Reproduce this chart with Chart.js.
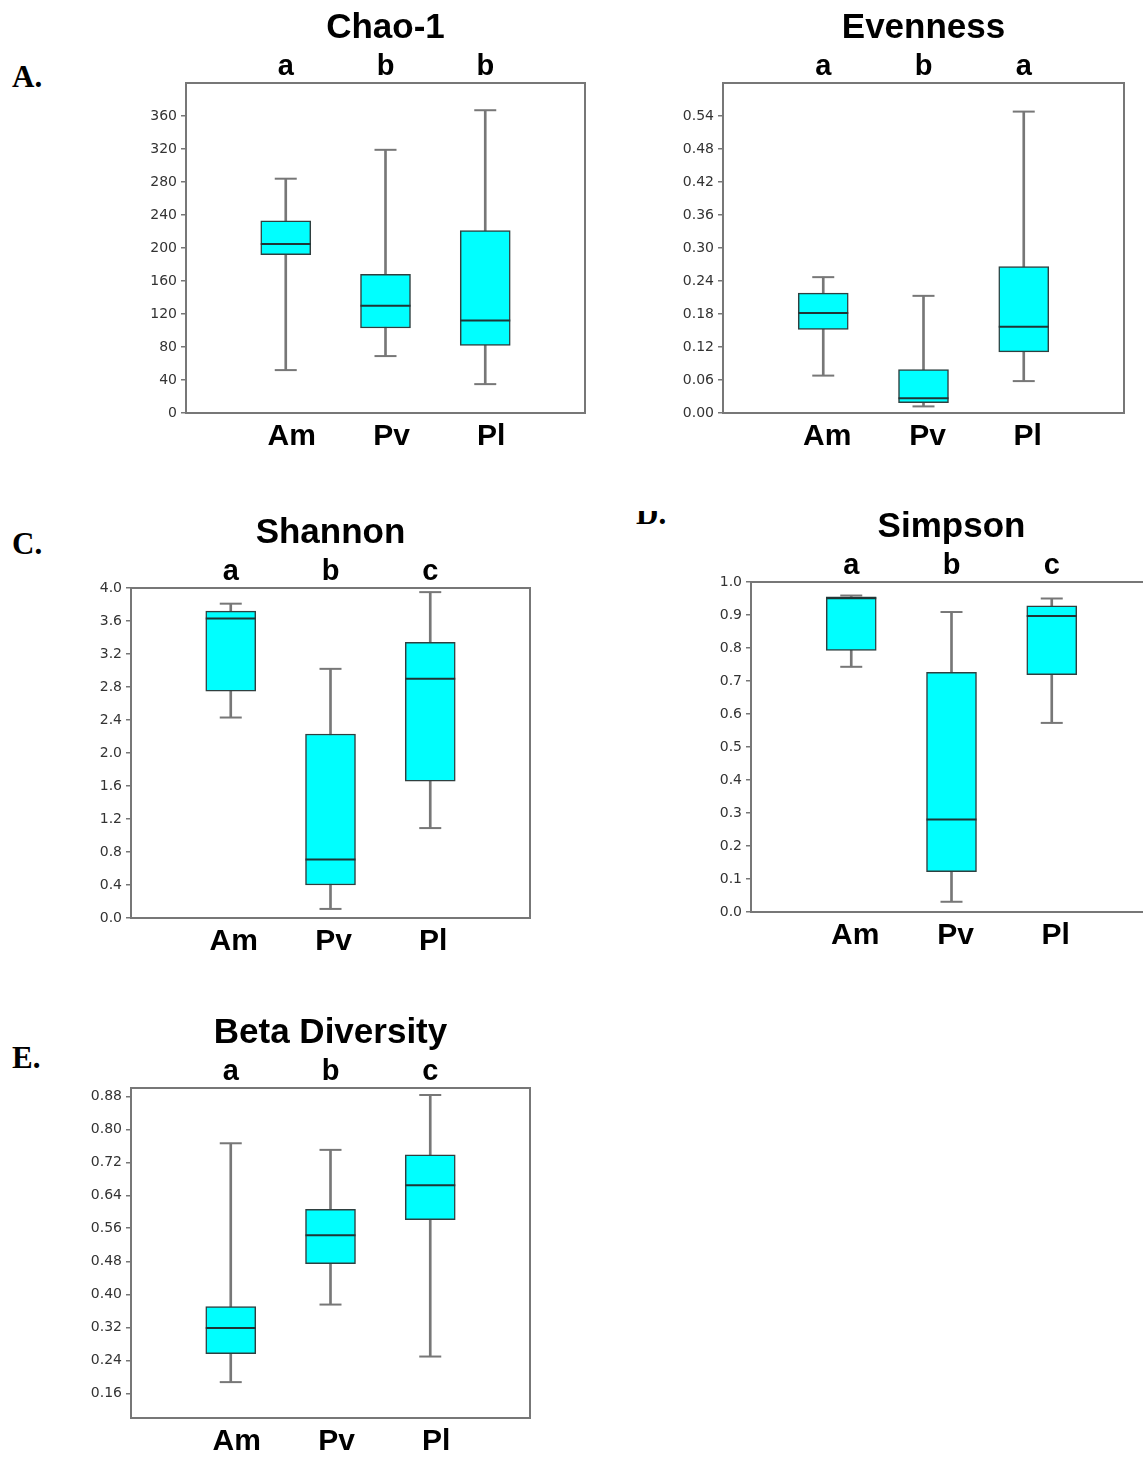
<!DOCTYPE html>
<html>
<head>
<meta charset="utf-8">
<script src="https://cdn.jsdelivr.net/npm/chart.js@4.4.1/dist/chart.umd.min.js"></script>
<style>
  html, body { margin: 0; padding: 0; background: #fff; }
  #page { position: relative; width: 1143px; height: 1457px; overflow: hidden; }
  canvas { position: absolute; }
  .tag { position: absolute; font-family: "Liberation Serif", serif; font-weight: bold; font-size: 31px; color: #000; line-height: 1; }
  #clipD { position: absolute; left: 630px; top: 511px; width: 50px; height: 14px; overflow: hidden; }
</style>
</head>
<body>
<div id="page">
  <div class="tag" style="left:12px; top:61px;">A.</div>
  <div class="tag" style="left:12px; top:528px;">C.</div>
  <div class="tag" style="left:12px; top:1042px;">E.</div>
  <div id="clipD"><div class="tag" style="left:6px; top:-13px;">D.</div></div>
  <canvas id="chao" width="511" height="454"></canvas>
  <canvas id="even" width="513" height="454"></canvas>
  <canvas id="shan" width="511" height="454"></canvas>
  <canvas id="simp" width="513" height="454"></canvas>
  <canvas id="beta" width="511" height="454"></canvas>
</div>
<script>
// grupos
const groups = ['Am', 'Pv', 'Pl'];

// Chao-1
const chaoMin = [52, 69, 35];
const chaoQ1 = [192, 103, 82];
const chaoMed = [205, 130, 112];
const chaoQ3 = [233, 168, 221];
const chaoMax = [284, 319, 367];
const chaoLetters = ['a', 'b', 'b'];
const chaoTicks = ['0', '40', '80', '120', '160', '200', '240', '280', '320', '360'];

// Evenness
const evenMin = [0.068, 0.012, 0.058];
const evenQ1 = [0.152, 0.019, 0.111];
const evenMed = [0.182, 0.027, 0.157];
const evenQ3 = [0.218, 0.079, 0.266];
const evenMax = [0.247, 0.213, 0.548];
const evenLetters = ['a', 'b', 'a'];
const evenTicks = ['0.00', '0.06', '0.12', '0.18', '0.24', '0.30', '0.36', '0.42', '0.48', '0.54'];

// Shannon
const shanMin = [2.43, 0.11, 1.09];
const shanQ1 = [2.75, 0.40, 1.66];
const shanMed = [3.63, 0.71, 2.90];
const shanQ3 = [3.72, 2.23, 3.34];
const shanMax = [3.81, 3.02, 3.95];
const shanLetters = ['a', 'b', 'c'];
const shanTicks = ['0.0', '0.4', '0.8', '1.2', '1.6', '2.0', '2.4', '2.8', '3.2', '3.6', '4.0'];

// Simpson
const simpMin = [0.743, 0.031, 0.573];
const simpQ1 = [0.793, 0.122, 0.719];
const simpMed = [0.951, 0.280, 0.897];
const simpQ3 = [0.955, 0.726, 0.928];
const simpMax = [0.959, 0.909, 0.950];
const simpLetters = ['a', 'b', 'c'];
const simpTicks = ['0.0', '0.1', '0.2', '0.3', '0.4', '0.5', '0.6', '0.7', '0.8', '0.9', '1.0'];

// Beta diversity
const betaMin = [0.187, 0.375, 0.249];
const betaQ1 = [0.256, 0.474, 0.581];
const betaMed = [0.318, 0.543, 0.664];
const betaQ3 = [0.370, 0.606, 0.738];
const betaMax = [0.766, 0.750, 0.883];
const betaLetters = ['a', 'b', 'c'];
const betaTicks = ['0.16', '0.24', '0.32', '0.40', '0.48', '0.56', '0.64', '0.72', '0.80', '0.88'];

const frameColor = '#777777';
const whiskerColor = '#777777';
const boxBorder = '#2f3f3f';
const medianColor = '#1f3535';

// pad the category axis with an empty slot on each side
const pad = arr => [null, ...arr, null];
const padLabels = arr => ['', ...arr, ''];

function boxPlot(id, left, top, labelShift, title, mins, q1s, meds, q3s, maxs, letters, tickLabels, yMin, yMax) {
  const canvas = document.getElementById(id);
  canvas.style.left = left + 'px';
  canvas.style.top = top + 'px';

  const config = {
    type: 'bar',
    data: {
      labels: padLabels(groups),
      datasets: [
        {
          type: 'line', label: 'median', data: pad(meds), showLine: false,
          pointStyle: 'line', pointRadius: 25, borderColor: medianColor, borderWidth: 2, order: 1
        },
        {
          type: 'line', label: 'max', data: pad(maxs), showLine: false,
          pointStyle: 'line', pointRadius: 11, borderColor: whiskerColor, borderWidth: 2, order: 1
        },
        {
          type: 'line', label: 'min', data: pad(mins), showLine: false,
          pointStyle: 'line', pointRadius: 11, borderColor: whiskerColor, borderWidth: 2, order: 1
        },
        {
          label: 'box', data: pad(groups.map((g, i) => [q1s[i], q3s[i]])),
          backgroundColor: '#00ffff', borderColor: boxBorder, borderWidth: 1.5,
          borderSkipped: false, barThickness: 50, order: 2
        },
        {
          label: 'whisker', data: pad(groups.map((g, i) => [mins[i], maxs[i]])),
          backgroundColor: whiskerColor, borderWidth: 0, barThickness: 2, order: 3
        }
      ]
    },
    options: {
      responsive: false,
      animation: false,
      events: [],
      layout: { padding: 0 },
      plugins: {
        legend: { display: false },
        tooltip: { enabled: false },
        title: {
          display: true, text: title, color: '#000', padding: { top: 3, bottom: 0 },
          font: { family: 'Liberation Sans', size: 35, weight: 'bold', lineHeight: 1.2 }
        }
      },
      scales: {
        x: {
          type: 'category', position: 'bottom', stacked: true, offset: false,
          grid: { drawOnChartArea: false, drawTicks: false, color: frameColor },
          border: { color: frameColor, width: 2 },
          ticks: { color: '#000', padding: 6, labelOffset: labelShift, maxRotation: 0, autoSkip: false,
                   font: { family: 'Liberation Sans', size: 30, weight: 'bold' } },
          afterFit: axis => { axis.height = 45; }
        },
        x2: {
          type: 'category', position: 'top', offset: false, labels: padLabels(letters),
          grid: { drawOnChartArea: false, drawTicks: false, color: frameColor },
          border: { color: frameColor, width: 2 },
          ticks: { color: '#000', padding: -1, maxRotation: 0, autoSkip: false,
                   font: { family: 'Liberation Sans', size: 29, weight: 'bold' } },
          afterFit: axis => { axis.height = 34; }
        },
        y: {
          type: 'linear', position: 'left', min: yMin, max: yMax,
          grid: { drawOnChartArea: false, tickLength: 5, color: frameColor, lineWidth: 1.5 },
          border: { color: frameColor, width: 2 },
          ticks: { color: '#333', padding: 4, callback: (v, i) => tickLabels[i],
                   font: { family: 'DejaVu Sans', size: 14 } },
          afterBuildTicks: axis => { axis.ticks = tickLabels.map(t => ({ value: Number(t) })); },
          afterFit: axis => { axis.width = 56; }
        },
        yR: {
          type: 'linear', position: 'right', min: yMin, max: yMax,
          grid: { drawOnChartArea: false, drawTicks: false, color: frameColor },
          border: { color: frameColor, width: 2 },
          ticks: { display: false },
          afterFit: axis => { axis.width = 56; }
        }
      }
    }
  };

  new Chart(canvas.getContext('2d'), config);
}

boxPlot('chao', 130, 4, 6, 'Chao-1', chaoMin, chaoQ1, chaoMed, chaoQ3, chaoMax, chaoLetters, chaoTicks, 0, 400);
boxPlot('even', 667, 4, 4, 'Evenness', evenMin, evenQ1, evenMed, evenQ3, evenMax, evenLetters, evenTicks, 0, 0.6);
boxPlot('shan', 75, 509, 3, 'Shannon', shanMin, shanQ1, shanMed, shanQ3, shanMax, shanLetters, shanTicks, 0, 4.0);
boxPlot('simp', 695, 503, 4, 'Simpson', simpMin, simpQ1, simpMed, simpQ3, simpMax, simpLetters, simpTicks, 0, 1.0);
boxPlot('beta', 75, 1009, 6, 'Beta Diversity', betaMin, betaQ1, betaMed, betaQ3, betaMax, betaLetters, betaTicks, 0.1, 0.9);
</script>
</body>
</html>
